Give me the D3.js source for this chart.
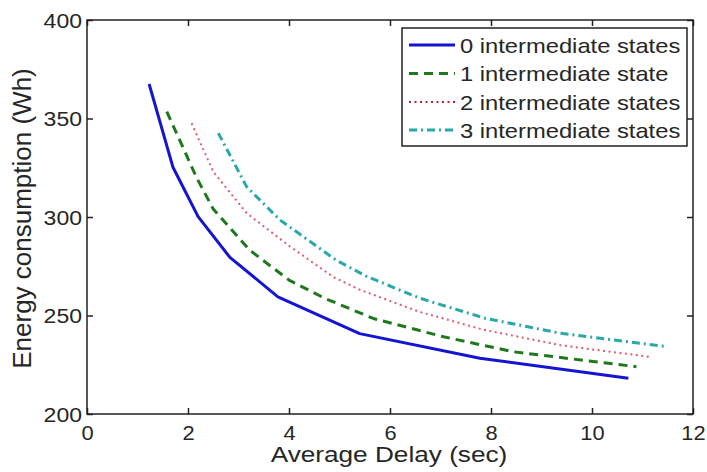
<!DOCTYPE html>
<html>
<head>
<meta charset="utf-8">
<script src="https://cdn.jsdelivr.net/npm/d3@7"></script>
<style>
  html, body { margin: 0; padding: 0; background: #fff; }
  svg { display: block; }
  text { font-family: "Liberation Sans", Arial, Helvetica, sans-serif; fill: #262626; }
</style>
</head>
<body>
<svg id="chart" width="707" height="472"></svg>
<script>
// ---- data ----
const seriesNames = ["0 intermediate states", "1 intermediate state", "2 intermediate states", "3 intermediate states"];
const delay0  = [1.23, 1.70, 2.20, 2.83, 3.78, 5.40, 7.78, 10.72];
const energy0 = [367.5, 325.4, 300.2, 279.5, 259.5, 240.8, 228.3, 218.2];
const delay1  = [1.58, 2.17, 2.50, 3.23, 4.00, 4.71, 5.67, 7.06, 8.44, 10.88];
const energy1 = [353.5, 320.0, 304.0, 283.0, 268.0, 258.7, 248.5, 239.2, 231.6, 224.0];
const delay2  = [2.07, 2.50, 3.16, 4.02, 4.88, 5.41, 6.59, 7.85, 9.40, 11.15];
const energy2 = [347.6, 323.0, 302.0, 285.0, 269.5, 263.0, 251.8, 242.8, 234.8, 229.0];
const delay3  = [2.60, 3.16, 3.82, 4.94, 5.54, 6.60, 7.88, 9.37, 11.47];
const energy3 = [342.6, 315.4, 298.5, 278.0, 269.8, 258.7, 248.6, 241.0, 234.2];
const xTicks = [0, 2, 4, 6, 8, 10, 12];
const yTicks = [200, 250, 300, 350, 400];
const xLabel = "Average Delay (sec)";
const yLabel = "Energy consumption (Wh)";

// ---- styles ----
const styles = [
  { color: "#1414d2", width: 3,   dash: null },
  { color: "#1e781e", width: 3,   dash: "9,6" },
  { color: "#e25a6e", width: 2,   dash: "2,3.5" },
  { color: "#2aa8a8", width: 3,   dash: "8,4,2,4" }
];
const seriesData = [
  d3.zip(delay0, energy0),
  d3.zip(delay1, energy1),
  d3.zip(delay2, energy2),
  d3.zip(delay3, energy3)
];

const svg = d3.select("#chart");
const L = 87, R = 693, T = 20, B = 414;
const x = d3.scaleLinear().domain([0, 12]).range([L, R]);
const y = d3.scaleLinear().domain([200, 400]).range([B, T]);

function stretch(sel, f) {
  sel.each(function () {
    const w = this.getComputedTextLength();
    this.setAttribute("textLength", w * f);
    this.setAttribute("lengthAdjust", "spacingAndGlyphs");
  });
}

// lines
const line = d3.line().x(d => x(d[0])).y(d => y(d[1])).curve(d3.curveLinear);
seriesData.forEach((data, i) => {
  const s = styles[i];
  svg.append("path")
    .datum(data)
    .attr("d", line)
    .attr("fill", "none")
    .attr("stroke", s.color)
    .attr("stroke-width", s.width)
    .attr("stroke-dasharray", s.dash)
    .attr("stroke-linejoin", "round");
});

// axes
const axisColor = "#222";
const gB = svg.append("g").attr("transform", `translate(0,${B})`)
  .call(d3.axisBottom(x).tickValues(xTicks).tickSizeInner(-6).tickSizeOuter(0).tickFormat(d3.format("d")));
const gT = svg.append("g").attr("transform", `translate(0,${T})`)
  .call(d3.axisTop(x).tickValues(xTicks).tickSizeInner(-6).tickSizeOuter(0).tickFormat(""));
const gL = svg.append("g").attr("transform", `translate(${L},0)`)
  .call(d3.axisLeft(y).tickValues(yTicks).tickSizeInner(-6).tickSizeOuter(0).tickFormat(d3.format("d")));
const gR = svg.append("g").attr("transform", `translate(${R},0)`)
  .call(d3.axisRight(y).tickValues(yTicks).tickSizeInner(-6).tickSizeOuter(0).tickFormat(""));
[gB, gT, gL, gR].forEach(g => {
  g.select(".domain").remove();
  g.selectAll(".tick line").attr("stroke", axisColor).attr("stroke-width", 1.5);
});
svg.append("rect")
  .attr("x", L).attr("y", T).attr("width", R - L).attr("height", B - T)
  .attr("fill", "none").attr("stroke", axisColor).attr("stroke-width", 1.5);

gB.selectAll(".tick text")
  .attr("y", 26).attr("dy", 0)
  .attr("font-size", 19.5).attr("fill", "#262626")
  .attr("font-family", "Liberation Sans, Arial, sans-serif");
stretch(gB.selectAll(".tick text"), 1.12);
gL.selectAll(".tick text")
  .attr("x", -5).attr("dy", "0.36em")
  .attr("font-size", 19.5).attr("fill", "#262626")
  .attr("font-family", "Liberation Sans, Arial, sans-serif");
stretch(gL.selectAll(".tick text"), 1.18);

// axis labels
const xl = svg.append("text")
  .attr("x", (270 + 508) / 2).attr("y", 462)
  .attr("text-anchor", "middle").attr("font-size", 22)
  .text(xLabel);
stretch(xl, 1.19);
const yl = svg.append("text")
  .attr("transform", `translate(31,${(67 + 370) / 2}) rotate(-90)`)
  .attr("text-anchor", "middle").attr("font-size", 26)
  .text(yLabel);
stretch(yl, 1.0);

// legend
const lg = svg.append("g");
lg.append("rect")
  .attr("x", 402).attr("y", 28).attr("width", 285).attr("height", 118)
  .attr("fill", "#fff").attr("stroke", axisColor).attr("stroke-width", 1.5);
const rowY = [45, 73.5, 102, 130];
seriesNames.forEach((name, i) => {
  const s = styles[i];
  lg.append("line")
    .attr("x1", 409).attr("x2", 455).attr("y1", rowY[i]).attr("y2", rowY[i])
    .attr("stroke", i === 2 ? "#b8243c" : s.color)
    .attr("stroke-width", s.width)
    .attr("stroke-dasharray", s.dash);
  const t = lg.append("text")
    .attr("x", 460).attr("y", rowY[i]).attr("dy", "0.36em")
    .attr("font-size", 21)
    .text(name);
  stretch(t, 1.13);
});
</script>
</body>
</html>
